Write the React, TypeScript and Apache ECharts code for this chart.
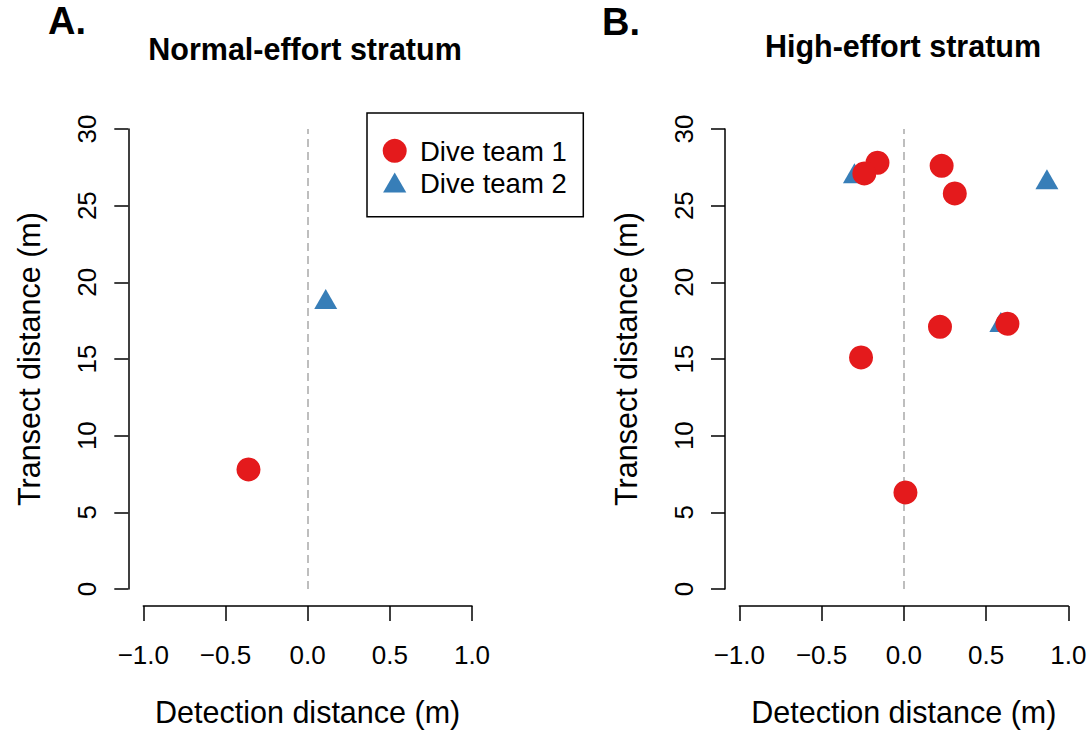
import React, { useEffect, useRef } from "react";
import * as echarts from "echarts";

const panelTitles = ["Normal-effort stratum", "High-effort stratum"];
const panelLetters = ["A.", "B."];
const teamNames = ["Dive team 1", "Dive team 2"];
const teamColors = ["#E41A1C", "#377EB8"];
const xAxisTitle = "Detection distance (m)";
const yAxisTitle = "Transect distance (m)";

// [detection distance (m), transect distance (m)]
const normalTeam1: number[][] = [[-0.36, 7.8]];
const normalTeam2: number[][] = [[0.11, 18.7]];
const highTeam1: number[][] = [
  [-0.16, 27.8],
  [-0.24, 27.1],
  [0.23, 27.6],
  [0.31, 25.8],
  [0.22, 17.1],
  [0.63, 17.3],
  [-0.26, 15.1],
  [0.01, 6.3],
];
const highTeam2: number[][] = [
  [-0.3, 26.9],
  [0.87, 26.5],
  [0.59, 17.2],
];

const xMin = -1, xMax = 1, xStep = 0.5;
const yMin = 0, yMax = 30, yStep = 5;

const FONT = '"Liberation Sans", Arial, Helvetica, sans-serif';

export default function App() {
  const ref = useRef<HTMLDivElement>(null);
  useEffect(() => {
    if (!ref.current) return;
    const chart = echarts.init(ref.current, null, { renderer: "svg" });

    const fmt = (v: number) => v.toFixed(1).replace("-", "\u2212");

    const grids = [
      { left: 143.3, top: 129, width: 328.7, height: 460 },
      { left: 739.3, top: 129, width: 329, height: 460 },
    ];
    const yOffsets = [15, 14.3];

    const xAxes = grids.map((_, i) => ({
      type: "value",
      gridIndex: i,
      min: xMin,
      max: xMax,
      interval: xStep,
      position: "bottom",
      offset: 17,
      name: xAxisTitle,
      nameLocation: "middle",
      nameGap: 90,
      nameTextStyle: { fontSize: 30.5, color: "#000", fontFamily: FONT },
      axisLine: { show: true, onZero: false, lineStyle: { color: "#000", width: 1.5 } },
      axisTick: { show: true, length: 15, lineStyle: { color: "#000", width: 1.5 } },
      axisLabel: { fontSize: 26, color: "#000", fontFamily: FONT, margin: 36, formatter: fmt },
      splitLine: { show: false },
    }));

    const yAxes = grids.map((_, i) => ({
      type: "value",
      gridIndex: i,
      min: yMin,
      max: yMax,
      interval: yStep,
      position: "left",
      offset: yOffsets[i],
      name: yAxisTitle,
      nameLocation: "middle",
      nameGap: 84,
      nameTextStyle: { fontSize: 30.5, color: "#000", fontFamily: FONT },
      axisLine: { show: true, onZero: false, lineStyle: { color: "#000", width: 1.5 } },
      axisTick: { show: true, length: 14, lineStyle: { color: "#000", width: 1.5 } },
      axisLabel: { fontSize: 26, color: "#000", fontFamily: FONT, margin: 28, rotate: 90 },
      splitLine: { show: false },
    }));

    const panels = [
      [normalTeam1, normalTeam2],
      [highTeam1, highTeam2],
    ];

    const series: any[] = [];
    panels.forEach((p, i) => {
      // team 2 triangles first (drawn beneath)
      series.push({
        type: "scatter",
        name: teamNames[1],
        xAxisIndex: i,
        yAxisIndex: i,
        data: p[1],
        symbol: "triangle",
        symbolSize: [23, 20],
        symbolOffset: [0, -3.3],
        itemStyle: { color: teamColors[1], opacity: 1 },
        clip: false,
        silent: true,
        z: 2,
        markLine: {
          silent: true,
          symbol: "none",
          label: { show: false },
          lineStyle: { color: "#BEBEBE", type: [8, 5], width: 2 },
          data: [[{ coord: [0, yMin] }, { coord: [0, yMax] }]],
          z: 1,
        },
      });
      series.push({
        type: "scatter",
        name: teamNames[0],
        xAxisIndex: i,
        yAxisIndex: i,
        data: p[0],
        symbol: "circle",
        symbolSize: 24,
        itemStyle: { color: teamColors[0], opacity: 1 },
        clip: false,
        silent: true,
        z: 3,
      });
    });

    const textStyle = (text: string, x: number, y: number, size: number, bold: boolean, align = "center") => ({
      type: "text",
      x,
      y,
      silent: true,
      style: {
        text,
        fontSize: size,
        fontWeight: bold ? "bold" : "normal",
        fontFamily: FONT,
        fill: "#000",
        align,
        verticalAlign: "middle",
      },
    });

    const graphic: any[] = [
      textStyle(panelLetters[0], 48, 21, 38, true, "left"),
      textStyle(panelLetters[1], 602, 22, 38, true, "left"),
      textStyle(panelTitles[0], 305, 48.5, 30.5, true),
      textStyle(panelTitles[1], 903, 45.5, 30.5, true),
      {
        type: "rect",
        silent: true,
        shape: { x: 367, y: 113, width: 216.3, height: 103.7 },
        style: { fill: "#fff", stroke: "#000", lineWidth: 1.5 },
        z: 10,
      },
      {
        type: "circle",
        silent: true,
        shape: { cx: 394.7, cy: 150.8, r: 12 },
        style: { fill: teamColors[0] },
        z: 11,
      },
      {
        type: "polygon",
        silent: true,
        shape: { points: [[394.7, 172.5], [406.3, 192.5], [383.1, 192.5]] },
        style: { fill: teamColors[1] },
        z: 11,
      },
      { ...textStyle(teamNames[0], 420, 151, 27.5, false, "left"), z: 11 },
      { ...textStyle(teamNames[1], 420, 183, 27.5, false, "left"), z: 11 },
    ];

    chart.setOption({
      animation: false,
      backgroundColor: "#fff",
      textStyle: { fontFamily: FONT },
      grid: grids,
      xAxis: xAxes,
      yAxis: yAxes,
      series,
      graphic,
    });

    return () => chart.dispose();
  }, []);

  return (
    <div
      ref={ref}
      style={{ position: "fixed", left: 0, top: 0, width: 1091, height: 733, background: "#fff" }}
    />
  );
}
